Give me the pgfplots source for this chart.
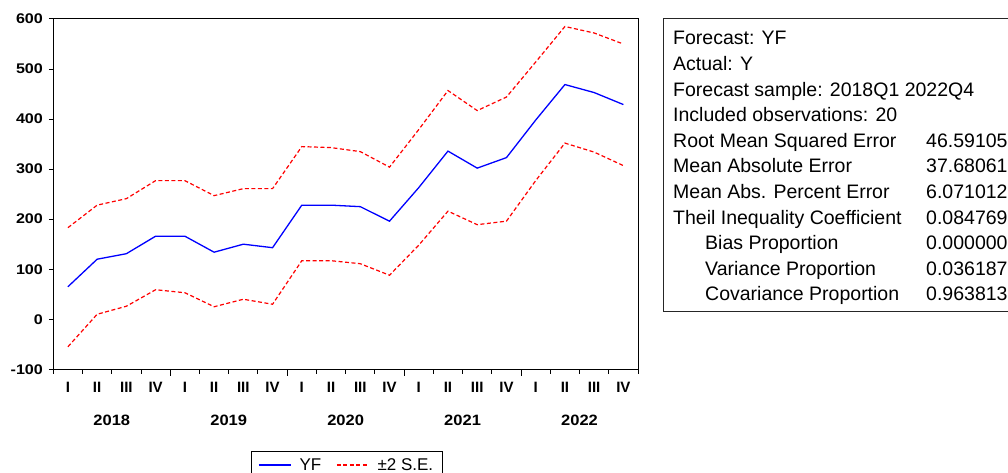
\documentclass[border=0pt]{standalone}
\usepackage{pgfplots}
\pgfplotsset{compat=1.18}
\usepackage{pgfplotstable}
\usepackage{graphicx}
\usepackage{fontspec}
\setmainfont{Liberation Sans}

\pgfplotstableread{
x yf up lo
0.5 65 183 -55
1.5 120 228 10
2.5 131 241 26
3.5 166 277 59
4.5 166 277 53
5.5 134 247 25
6.5 150 261 40
7.5 143 261 30
8.5 228 345 117
9.5 228 343 117
10.5 225 335 111
11.5 196 304 88
12.5 263 379 148
13.5 336 457 216
14.5 302 417 189
15.5 323 444 196
16.5 398 514 277
17.5 469 585 352
18.5 453 572 334
19.5 429 550 307
}\fcdata

\begin{document}
\begin{tikzpicture}[x=1pt,y=1pt]
\useasboundingbox (0,0) rectangle (1008,473);
\clip (0,0) rectangle (1008,473);
\begin{axis}[
  at={(53.3pt,103.7pt)}, anchor=south west,
  width=584.7pt, height=350.3pt, scale only axis,
  xmin=0, xmax=20, ymin=-100, ymax=600,
  clip=false,
  axis line style={line width=1pt, black},
  ytick={-100,0,100,200,300,400,500,600},
  xtick={0,...,20},
  x tick label as interval,
  xticklabels={I,II,III,IV,I,II,III,IV,I,II,III,IV,I,II,III,IV,I,II,III,IV},
  tick align=outside, tick pos=left,
  major tick length=4.5pt,
  tick style={line width=1pt, black},
  /pgf/number format/assume math mode=true,
  yticklabel={\scalebox{1.15}[1]{\pgfmathprintnumber{\tick}}},
  yticklabel style={font=\bfseries\fontsize{14}{14}\selectfont, xshift=-2.4pt},
  xticklabel style={font=\bfseries\fontsize{15}{15}\selectfont, anchor=base, yshift=-19pt},
  legend columns=2,
  legend style={at={(0.338,-0.233)}, anchor=north west, draw=black, line width=0.8pt,
    font=\fontsize{17}{17}\selectfont, inner xsep=7pt, inner ysep=5pt,
    /tikz/every odd column/.append style={column sep=6pt},
    /tikz/every even column/.append style={column sep=13pt}},
  legend image code/.code={\draw[#1] (0pt,0pt) -- (32pt,0pt);},
]
\addplot[blue, line width=1.3pt] table[x=x, y=yf] {\fcdata};
\addlegendentry{YF}
\addplot[red, line width=1.2pt, dash pattern=on 4pt off 2.5pt] table[x=x, y=up] {\fcdata};
\addlegendentry{\textpm2 S.E.}
\addplot[red, line width=1.2pt, dash pattern=on 4pt off 2.5pt, forget plot] table[x=x, y=lo] {\fcdata};
\draw[line width=1pt] (axis cs:4,-100) -- ([yshift=-7pt]axis cs:4,-100);
\draw[line width=1pt] (axis cs:8,-100) -- ([yshift=-7pt]axis cs:8,-100);
\draw[line width=1pt] (axis cs:12,-100) -- ([yshift=-7pt]axis cs:12,-100);
\draw[line width=1pt] (axis cs:16,-100) -- ([yshift=-7pt]axis cs:16,-100);
\node[font=\bfseries\fontsize{15}{15}\selectfont, anchor=base] at (axis cs:2,-100) [yshift=-55.7pt] {\scalebox{1.1}[1]{2018}};
\node[font=\bfseries\fontsize{15}{15}\selectfont, anchor=base] at (axis cs:6,-100) [yshift=-55.7pt] {\scalebox{1.1}[1]{2019}};
\node[font=\bfseries\fontsize{15}{15}\selectfont, anchor=base] at (axis cs:10,-100) [yshift=-55.7pt] {\scalebox{1.1}[1]{2020}};
\node[font=\bfseries\fontsize{15}{15}\selectfont, anchor=base] at (axis cs:14,-100) [yshift=-55.7pt] {\scalebox{1.1}[1]{2021}};
\node[font=\bfseries\fontsize{15}{15}\selectfont, anchor=base] at (axis cs:18,-100) [yshift=-55.7pt] {\scalebox{1.1}[1]{2022}};
\end{axis}
\draw[line width=1pt, black!85] (663,161) rectangle (1040,454);
\begin{scope}[every node/.style={anchor=base west, inner sep=0pt, font=\fontsize{19.5}{19.5}\selectfont}]
\node at (673,428.0) {Forecast: YF};
\node at (673,402.4) {Actual: Y};
\node at (673,376.8) {Forecast sample: 2018Q1 2022Q4};
\node at (673,351.2) {Included observations: 20};
\node at (673,325.6) {Root Mean Squared Error};
\node at (926,325.6) {46.59105};
\node at (673,300.0) {Mean Absolute Error};
\node at (926,300.0) {37.68061};
\node at (673,274.4) {Mean Abs. Percent Error};
\node at (926,274.4) {6.071012};
\node at (673,248.8) {Theil Inequality Coefficient};
\node at (926,248.8) {0.084769};
\node at (705,223.2) {Bias Proportion};
\node at (926,223.2) {0.000000};
\node at (705,197.6) {Variance Proportion};
\node at (926,197.6) {0.036187};
\node at (705,172.0) {Covariance Proportion};
\node at (926,172.0) {0.963813};
\end{scope}
\end{tikzpicture}
\end{document}
